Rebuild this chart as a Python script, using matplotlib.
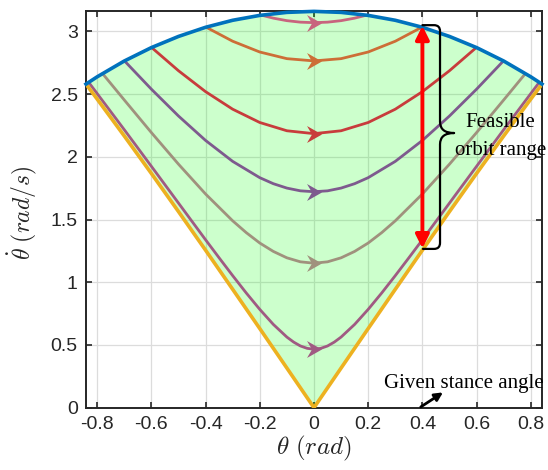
import numpy as np
import matplotlib
matplotlib.use("Agg")
import matplotlib.pyplot as plt
from matplotlib.path import Path
from matplotlib.patches import PathPatch

# ---------------- data ----------------
# boundary curves, sampled on a common theta grid
theta_grid = [-0.8411, -0.8, -0.7, -0.6, -0.5, -0.4, -0.3, -0.2, -0.1, 0.0,
              0.1, 0.2, 0.3, 0.4, 0.5, 0.6, 0.7, 0.8, 0.8411]
upper_boundary = [2.580, 2.638, 2.764, 2.871, 2.960, 3.033, 3.089, 3.128, 3.152, 3.160,
                  3.152, 3.128, 3.089, 3.033, 2.960, 2.871, 2.764, 2.638, 2.580]
lower_boundary = [2.580, 2.461, 2.167, 1.868, 1.564, 1.256, 0.944, 0.631, 0.316, 0.000,
                  0.316, 0.631, 0.944, 1.256, 1.564, 1.868, 2.167, 2.461, 2.580]

# orbits (theta, theta_dot)
orbit1_theta = [-0.194, -0.15, -0.1, -0.05, 0.0, 0.05, 0.1, 0.15, 0.194]
orbit1_dot = [3.130, 3.106, 3.086, 3.074, 3.070, 3.074, 3.086, 3.106, 3.130]

orbit2_theta = [-0.398, -0.3, -0.2, -0.1, 0.0, 0.1, 0.2, 0.3, 0.398]
orbit2_dot = [3.034, 2.922, 2.836, 2.783, 2.765, 2.783, 2.836, 2.922, 3.034]

orbit3_theta = [-0.599, -0.5, -0.4, -0.3, -0.2, -0.1, 0.0, 0.1, 0.2, 0.3, 0.4, 0.5, 0.599]
orbit3_dot = [2.872, 2.687, 2.520, 2.380, 2.274, 2.208, 2.185, 2.208, 2.274, 2.380, 2.520, 2.687, 2.872]

orbit4_theta = [-0.699, -0.6, -0.5, -0.4, -0.3, -0.2, -0.15, -0.1, -0.05, 0.0,
                0.05, 0.1, 0.15, 0.2, 0.3, 0.4, 0.5, 0.6, 0.699]
orbit4_dot = [2.765, 2.540, 2.326, 2.131, 1.964, 1.834, 1.786, 1.751, 1.729, 1.722,
              1.729, 1.751, 1.786, 1.834, 1.964, 2.131, 2.326, 2.540, 2.765]

orbit5_theta = [-0.780, -0.7, -0.6, -0.5, -0.4, -0.3, -0.25, -0.2, -0.15, -0.1, -0.05, 0.0,
                0.05, 0.1, 0.15, 0.2, 0.25, 0.3, 0.4, 0.5, 0.6, 0.7, 0.780]
orbit5_dot = [2.664, 2.454, 2.194, 1.942, 1.704, 1.490, 1.396, 1.313, 1.246, 1.195, 1.163, 1.152,
              1.163, 1.195, 1.246, 1.313, 1.396, 1.490, 1.704, 1.942, 2.194, 2.454, 2.664]

orbit6_theta = [-0.831, -0.8, -0.7, -0.6, -0.5, -0.4, -0.35, -0.3, -0.25, -0.2, -0.15, -0.1,
                -0.075, -0.05, -0.025, 0.0, 0.025, 0.05, 0.075, 0.1, 0.15, 0.2, 0.25, 0.3,
                0.35, 0.4, 0.5, 0.6, 0.7, 0.8, 0.831]
orbit6_dot = [2.594, 2.505, 2.217, 1.925, 1.632, 1.339, 1.195, 1.053, 0.915, 0.784, 0.664, 0.563,
              0.523, 0.492, 0.473, 0.466, 0.473, 0.492, 0.523, 0.563, 0.664, 0.784, 0.915, 1.053,
              1.195, 1.339, 1.632, 1.925, 2.217, 2.505, 2.594]

orbit_thetas = [orbit1_theta, orbit2_theta, orbit3_theta, orbit4_theta, orbit5_theta, orbit6_theta]
orbit_dots = [orbit1_dot, orbit2_dot, orbit3_dot, orbit4_dot, orbit5_dot, orbit6_dot]
orbit_center_dots = [3.070, 2.765, 2.185, 1.722, 1.152, 0.466]

# feasible range at the given stance angle
stance_theta = 0.4
range_low = 1.27
range_high = 3.045

x_ticks = [-0.8, -0.6, -0.4, -0.2, 0, 0.2, 0.4, 0.6, 0.8]
x_ticklabels = ["-0.8", "-0.6", "-0.4", "-0.2", "0", "0.2", "0.4", "0.6", "0.8"]
y_ticks = [0, 0.5, 1, 1.5, 2, 2.5, 3]
y_ticklabels = ["0", "0.5", "1", "1.5", "2", "2.5", "3"]

# ---------------- style ----------------
orbit_colors = ["#C8647E", "#CD6E37", "#C83C3C", "#7E5A8E", "#A0917D", "#A05A82"]
blue = "#0072BD"
yellow = "#EDB120"
axcol = "#262626"

plt.rcParams["mathtext.fontset"] = "cm"
plt.rcParams["font.family"] = ["Liberation Sans", "DejaVu Sans"]

fig = plt.figure(figsize=(5.48, 4.70), dpi=100)
ax = fig.add_axes([0.1569, 0.1326, 0.8321, 0.8440])

ax.fill_between(theta_grid, lower_boundary, upper_boundary, color=(0, 1, 0), alpha=0.2,
                linewidth=0, zorder=1)

# notched arrowhead marker (tip to the right)
arrow_marker = Path([(7.5, 0.0), (-7.5, 8.5), (-2.5, 0.0), (-7.5, -8.5), (7.5, 0.0)],
                    [Path.MOVETO, Path.LINETO, Path.LINETO, Path.LINETO, Path.CLOSEPOLY])

for th, dt, c0, col in zip(orbit_thetas, orbit_dots, orbit_center_dots, orbit_colors):
    ax.plot(th, dt, color=col, lw=2.0, zorder=3, solid_capstyle="butt")
    ax.plot([0.0], [c0], marker=arrow_marker, markersize=12.2, color=col,
            markeredgewidth=0, zorder=4)

ax.plot(theta_grid, lower_boundary, color=yellow, lw=2.6, zorder=5)
ax.plot(theta_grid, upper_boundary, color=blue, lw=2.6, zorder=6, clip_on=False)

# red double arrow
ax.annotate("", xy=(stance_theta, range_high), xytext=(stance_theta, range_low),
            arrowprops=dict(arrowstyle="<|-|>", color="#FF0000", lw=2.8,
                            mutation_scale=20, shrinkA=0, shrinkB=0),
            zorder=7)

# curly brace
xv, xt, x0 = 0.465, 0.517, 0.4
ytop, ymid, ybot = 3.05, 2.19, 1.266
rx, ry = 0.022, 0.048
verts = [(x0, ytop), (xv - rx, ytop), (xv, ytop), (xv, ytop - ry),
         (xv, ymid + 0.09), (xv, ymid), (xt, ymid),
         (xv, ymid), (xv, ymid - 0.09),
         (xv, ybot + ry), (xv, ybot), (xv - rx, ybot), (x0 + 0.002, ybot)]
codes = [Path.MOVETO, Path.LINETO, Path.CURVE3, Path.CURVE3,
         Path.LINETO, Path.CURVE3, Path.CURVE3,
         Path.CURVE3, Path.CURVE3,
         Path.LINETO, Path.CURVE3, Path.CURVE3, Path.LINETO]
ax.add_patch(PathPatch(Path(verts, codes), fill=False, lw=1.6, edgecolor="black",
                       zorder=8, capstyle="round", joinstyle="round"))

serif = ["Liberation Serif", "DejaVu Serif"]
ax.text(0.688, 2.241, "Feasible", family=serif, fontsize=15, ha="center", va="baseline",
        zorder=9, clip_on=False)
ax.text(0.688, 2.015, "orbit range", family=serif, fontsize=15, ha="center", va="baseline",
        zorder=9, clip_on=False)
ax.text(0.2565, 0.155, "Given stance angle", family=serif, fontsize=15, ha="left",
        va="baseline", zorder=9, clip_on=False)
ax.annotate("", xy=(0.476, 0.122), xytext=(0.394, 0.006),
            arrowprops=dict(arrowstyle="-|>", color="black", lw=2.0,
                            mutation_scale=12, shrinkA=0, shrinkB=0),
            zorder=9, annotation_clip=False)

ax.set_xlim(-0.8411, 0.8411)
ax.set_ylim(0, 3.163)
ax.set_xticks(x_ticks)
ax.set_xticklabels(x_ticklabels)
ax.set_yticks(y_ticks)
ax.set_yticklabels(y_ticklabels)
ax.tick_params(direction="in", length=4, width=1.2, top=True, right=True,
               labelsize=14, colors=axcol, pad=6)
for s in ax.spines.values():
    s.set_linewidth(1.4)
    s.set_color(axcol)
ax.grid(True, color="#DCDCDC", lw=0.9)
ax.set_axisbelow(True)

ax.set_xlabel(r"$\theta\ (rad)$", fontsize=18, color=axcol, labelpad=1)
ax.set_ylabel(r"$\dot{\theta}\ (rad/s)$", fontsize=17, color=axcol)
ax.yaxis.set_label_coords(-0.104, 0.49)

fig.savefig("out.png", dpi=100)
